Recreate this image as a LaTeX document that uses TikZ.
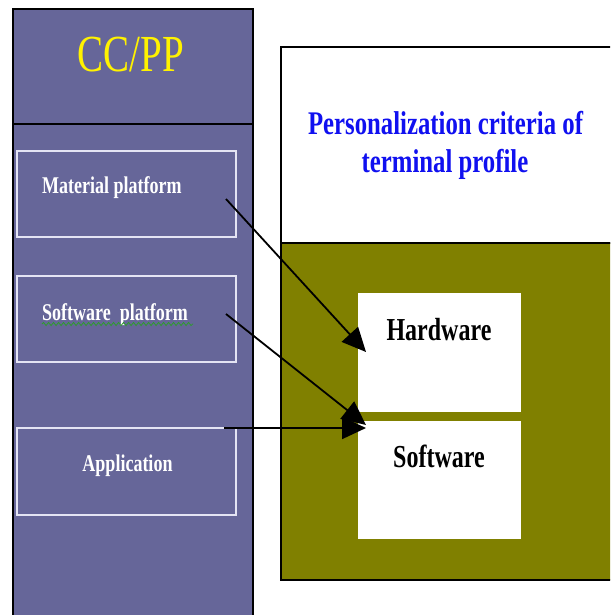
\documentclass[tikz,border=0pt]{standalone}
\usepackage{fontspec}
\setmainfont{Liberation Serif}
\newfontfamily\cond[FakeStretch=0.75]{Liberation Serif}
\usetikzlibrary{arrows.meta,decorations.pathmorphing}
\definecolor{panelpurple}{HTML}{666699}
\definecolor{olivebg}{HTML}{808000}
\definecolor{bluetxt}{HTML}{1010F0}
\definecolor{boxline}{HTML}{E4E4F4}
\definecolor{spellgreen}{HTML}{2E9A2E}
\tikzset{
  box/.style={rectangle, inner sep=0pt, outer sep=0pt},
  innerbox/.style={box, draw=boxline, line width=1.4pt},
  whitebox/.style={box, fill=white},
  lbl/.style={inner sep=0pt, anchor=base, font=\cond\bfseries\fontsize{24}{26}\selectfont, text=white},
  conn/.style={line width=1.8pt, -{Triangle[length=24pt,width=22pt]}}
}
\begin{document}
\begin{tikzpicture}[x=1pt,y=-1pt]
\useasboundingbox (0,0) rectangle (610,615);
\clip (0,0) rectangle (610,615);
\fill[white] (0,0) rectangle (610,615);
% left panel
\node[box, fill=panelpurple, draw=black, line width=1.5pt, minimum width=240pt, minimum height=611pt] (panel) at (133,314.5) {};
\node[box, draw=black, line width=1.5pt, minimum width=240pt, minimum height=115pt] (head) at (133,66.5) {};
\node[inner sep=0pt, anchor=base, text=yellow, font=\cond\fontsize{52}{52}\selectfont] (ccpp) at (131,72) {CC/PP};
\node[innerbox, minimum width=219pt, minimum height=86pt] (mat) at (126.5,194) {};
\node[innerbox, minimum width=219pt, minimum height=86pt] (swp) at (126.5,319) {};
\node[innerbox, minimum width=219pt, minimum height=87pt] (app) at (126.5,471.5) {};
\node[lbl, anchor=base west] (matl) at (42,193) {Material platform};
\node[lbl, anchor=base west] (swpl) at (42,320) {Software\ \ platform};
\node[lbl] (appl) at (127.5,471) {Application};
\draw[spellgreen, line width=0.8pt, decorate, decoration={snake, segment length=5pt, amplitude=1.6pt}] (42,324) -- (193,324);
% right side
\node[box, fill=white, draw=black, line width=1.5pt, minimum width=334pt, minimum height=196pt] (prof) at (448,145) {};
\node[box, fill=olivebg, draw=black, line width=1.5pt, minimum width=334pt, minimum height=337pt] (olive) at (448,411.5) {};
\node[inner sep=0pt, anchor=base, text=bluetxt, font=\cond\bfseries\fontsize{33}{37}\selectfont] (pc1) at (445.5,135) {Personalization criteria of};
\node[inner sep=0pt, anchor=base, text=bluetxt, font=\cond\bfseries\fontsize{33}{37}\selectfont] (pc2) at (445,172) {terminal profile};
\node[whitebox, minimum width=163pt, minimum height=119pt] (hw) at (439.5,352.5) {};
\node[whitebox, minimum width=163pt, minimum height=118pt] (sw) at (439.5,480) {};
\node[lbl, text=black, font=\cond\bfseries\fontsize{32}{34}\selectfont] (hwl) at (439,340) {Hardware};
\node[lbl, text=black, font=\cond\bfseries\fontsize{32}{34}\selectfont] (swl) at (439,467) {Software};
% connectors
\coordinate (a1) at (226,199);
\coordinate (b1) at (366,352);
\coordinate (a2) at (226,314);
\coordinate (b2) at (366,425);
\coordinate (a3) at (224,428);
\coordinate (b3) at (366,428);
\draw[conn] (a1) -- (b1);
\draw[conn] (a2) -- (b2);
\draw[conn] (a3) -- (b3);
\end{tikzpicture}
\end{document}
